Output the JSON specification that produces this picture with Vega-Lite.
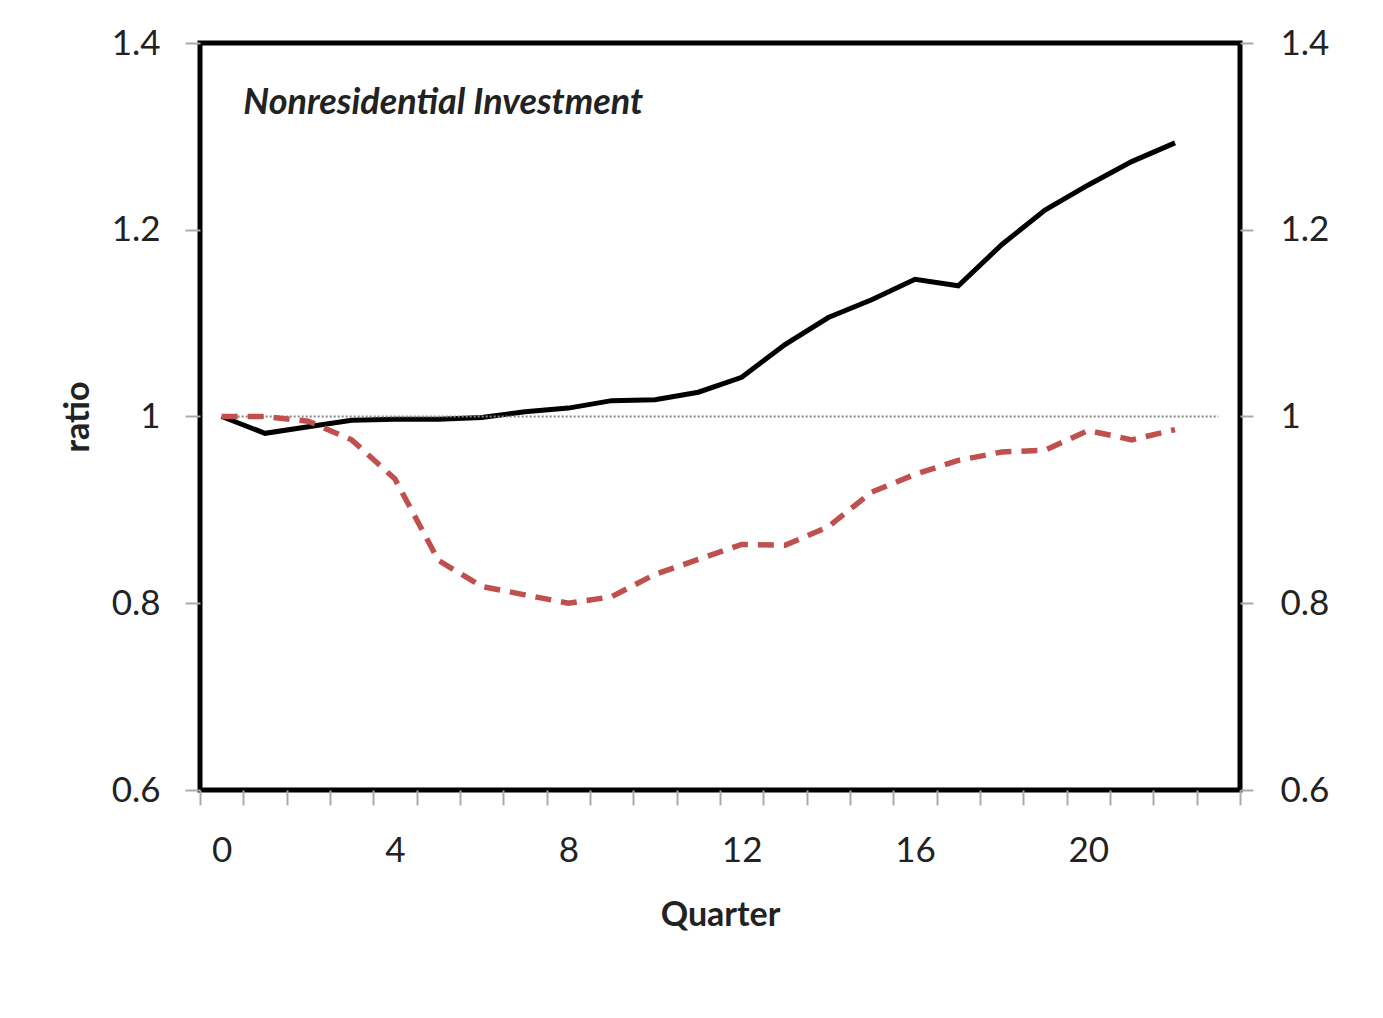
{
  "$schema": "https://vega.github.io/schema/vega-lite/v6.json",
  "autosize": "none",
  "width": 1040,
  "height": 747,
  "padding": {"left": 200, "top": 43, "right": 143, "bottom": 228},
  "background": "white",
  "config": {
    "view": {"stroke": "black", "strokeWidth": 5},
    "font": "Lato"
  },
  "datasets": {
    "ref": [{"q": 0, "v": 1}, {"q": 23, "v": 1}],
    "black": [
      {"q": 0, "v": 1.0}, {"q": 1, "v": 0.982}, {"q": 2, "v": 0.989}, {"q": 3, "v": 0.996},
      {"q": 4, "v": 0.997}, {"q": 5, "v": 0.997}, {"q": 6, "v": 0.999}, {"q": 7, "v": 1.005},
      {"q": 8, "v": 1.009}, {"q": 9, "v": 1.017}, {"q": 10, "v": 1.018}, {"q": 11, "v": 1.026},
      {"q": 12, "v": 1.042}, {"q": 13, "v": 1.077}, {"q": 14, "v": 1.106}, {"q": 15, "v": 1.125},
      {"q": 16, "v": 1.147}, {"q": 17, "v": 1.140}, {"q": 18, "v": 1.184}, {"q": 19, "v": 1.221},
      {"q": 20, "v": 1.248}, {"q": 21, "v": 1.273}, {"q": 22, "v": 1.293}
    ],
    "red": [
      {"q": 0, "v": 1.0}, {"q": 1, "v": 1.0}, {"q": 2, "v": 0.995}, {"q": 3, "v": 0.975},
      {"q": 4, "v": 0.933}, {"q": 5, "v": 0.846}, {"q": 6, "v": 0.818}, {"q": 7, "v": 0.809},
      {"q": 8, "v": 0.800}, {"q": 9, "v": 0.807}, {"q": 10, "v": 0.831}, {"q": 11, "v": 0.847},
      {"q": 12, "v": 0.863}, {"q": 13, "v": 0.862}, {"q": 14, "v": 0.882}, {"q": 15, "v": 0.919},
      {"q": 16, "v": 0.938}, {"q": 17, "v": 0.953}, {"q": 18, "v": 0.962}, {"q": 19, "v": 0.964},
      {"q": 20, "v": 0.985}, {"q": 21, "v": 0.975}, {"q": 22, "v": 0.986}
    ],
    "label": [{"q": 0.5, "v": 1.336, "text": "Nonresidential Investment"}]
  },
  "layer": [
    {
      "data": {"name": "black"},
      "mark": {"type": "line", "color": "black", "strokeWidth": 5},
      "encoding": {
        "x": {
          "field": "q", "type": "quantitative", "title": "Quarter",
          "scale": {"domain": [-0.5, 23.5], "nice": false, "zero": false},
          "axis": {
            "values": [-0.5, 0.5, 1.5, 2.5, 3.5, 4.5, 5.5, 6.5, 7.5, 8.5, 9.5, 10.5, 11.5, 12.5, 13.5, 14.5, 15.5, 16.5, 17.5, 18.5, 19.5, 20.5, 21.5, 22.5, 23.5],
            "labelExpr": "((datum.value + 0.5) % 4 == 0 && datum.value < 23) ? format(datum.value + 0.5, 'd') : ''",
            "labelOffset": 21.67,
            "labelFlush": false, "labelOverlap": false, "grid": false, "domain": false,
            "tickColor": "#aaaaaa", "tickWidth": 2, "tickSize": 15,
            "labelFontSize": 35, "labelColor": "#222222", "labelPadding": 28,
            "titleFontSize": 34, "titleFontWeight": "bold", "titleColor": "#222222", "titlePadding": 30
          }
        },
        "y": {
          "field": "v", "type": "quantitative", "title": "ratio",
          "scale": {"domain": [0.6, 1.4], "nice": false, "zero": false},
          "axis": {
            "orient": "left",
            "values": [0.6, 0.8, 1, 1.2, 1.4],
            "labelExpr": "format(datum.value, '.1~f')",
            "grid": false, "domain": false,
            "tickColor": "#aaaaaa", "tickWidth": 2, "tickSize": 15,
            "labelFontSize": 35, "labelColor": "#222222", "labelPadding": 25,
            "titleFontSize": 34, "titleFontWeight": "bold", "titleColor": "#222222", "titlePadding": 16
          }
        }
      }
    },
    {
      "data": {"name": "ref"},
      "mark": {"type": "line", "color": "#888888", "strokeWidth": 2, "strokeDash": [2, 2]},
      "encoding": {
        "x": {"field": "q", "type": "quantitative", "title": "Quarter"},
        "y": {"field": "v", "type": "quantitative", "axis": null}
      }
    },
    {
      "data": {"name": "red"},
      "mark": {"type": "line", "color": "#c0504d", "strokeWidth": 5.5, "strokeDash": [16, 10]},
      "encoding": {
        "x": {"field": "q", "type": "quantitative", "title": "Quarter"},
        "y": {
          "field": "v", "type": "quantitative",
          "axis": {
            "orient": "right", "title": null,
            "values": [0.6, 0.8, 1, 1.2, 1.4],
            "labelExpr": "format(datum.value, '.1~f')",
            "grid": false, "domain": false,
            "tickColor": "#aaaaaa", "tickWidth": 2, "tickSize": 13,
            "labelFontSize": 35, "labelColor": "#222222", "labelPadding": 27, "labelAlign": "left"
          }
        }
      }
    },
    {
      "data": {"name": "label"},
      "mark": {"type": "text", "align": "left", "baseline": "middle", "fontSize": 36, "fontStyle": "italic", "fontWeight": "bold", "color": "#222222"},
      "encoding": {
        "x": {"field": "q", "type": "quantitative", "title": "Quarter"},
        "y": {"field": "v", "type": "quantitative", "axis": null},
        "text": {"field": "text"}
      }
    }
  ],
  "resolve": {"axis": {"y": "independent"}}
}
